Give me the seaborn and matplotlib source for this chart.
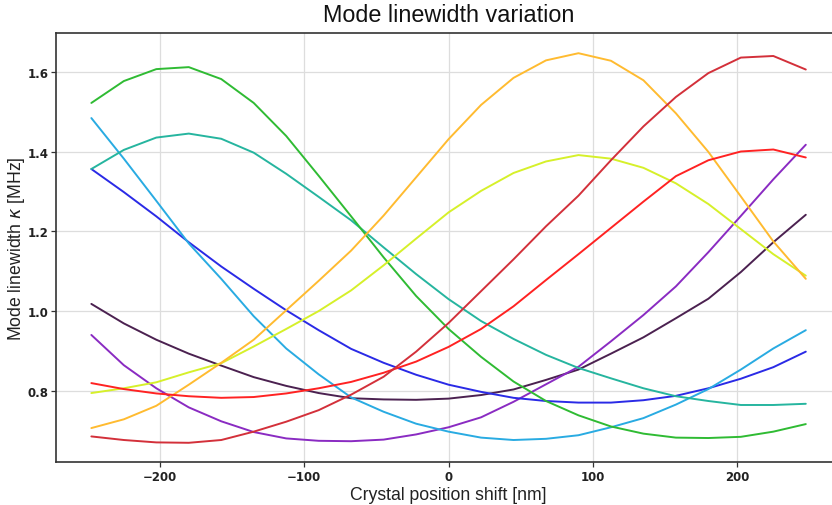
import numpy as np
import pandas as pd
import matplotlib
matplotlib.use("Agg")
import matplotlib.pyplot as plt
import seaborn as sns

# Crystal position shift samples [nm]
shift_nm = [-247.5, -225, -202.5, -180, -157.5, -135, -112.5, -90, -67.5, -45, -22.5, 0,
            22.5, 45, 67.5, 90, 112.5, 135, 157.5, 180, 202.5, 225, 247.5]

# Mode linewidth kappa [MHz] for each cavity mode
mode_darkpurple = [1.018, 0.969, 0.928, 0.893, 0.863, 0.834, 0.812, 0.794, 0.781, 0.778, 0.777, 0.780,
                   0.789, 0.803, 0.827, 0.853, 0.893, 0.934, 0.982, 1.031, 1.098, 1.173, 1.242]
mode_purple = [0.940, 0.864, 0.806, 0.758, 0.723, 0.696, 0.680, 0.674, 0.673, 0.677, 0.690, 0.708,
               0.733, 0.772, 0.816, 0.860, 0.924, 0.990, 1.062, 1.148, 1.239, 1.331, 1.418]
mode_blue = [1.357, 1.299, 1.238, 1.173, 1.112, 1.056, 1.002, 0.952, 0.905, 0.870, 0.840, 0.815,
             0.797, 0.782, 0.774, 0.770, 0.770, 0.776, 0.787, 0.806, 0.830, 0.859, 0.898]
mode_lightblue = [1.485, 1.383, 1.277, 1.170, 1.081, 0.987, 0.906, 0.841, 0.783, 0.747, 0.717, 0.697,
                  0.682, 0.676, 0.679, 0.688, 0.708, 0.731, 0.765, 0.804, 0.853, 0.906, 0.952]
mode_teal = [1.357, 1.405, 1.436, 1.446, 1.433, 1.398, 1.345, 1.287, 1.228, 1.160, 1.093, 1.030,
             0.975, 0.930, 0.890, 0.857, 0.831, 0.806, 0.786, 0.774, 0.764, 0.764, 0.767]
mode_green = [1.523, 1.578, 1.608, 1.613, 1.583, 1.523, 1.440, 1.340, 1.238, 1.135, 1.038, 0.955,
              0.885, 0.823, 0.774, 0.738, 0.710, 0.692, 0.682, 0.681, 0.684, 0.697, 0.716]
mode_yellowgreen = [0.794, 0.806, 0.821, 0.846, 0.869, 0.911, 0.955, 1.000, 1.052, 1.115, 1.182, 1.248,
                    1.302, 1.347, 1.376, 1.392, 1.383, 1.360, 1.321, 1.269, 1.206, 1.143, 1.089]
mode_orange = [0.706, 0.728, 0.762, 0.815, 0.870, 0.928, 1.002, 1.076, 1.152, 1.240, 1.336, 1.432,
               1.518, 1.586, 1.630, 1.648, 1.629, 1.580, 1.497, 1.400, 1.288, 1.175, 1.081]
mode_red = [0.819, 0.804, 0.793, 0.786, 0.782, 0.784, 0.793, 0.806, 0.822, 0.845, 0.873, 0.910,
            0.955, 1.012, 1.078, 1.143, 1.209, 1.275, 1.339, 1.379, 1.401, 1.406, 1.386]
mode_darkred = [0.685, 0.676, 0.670, 0.669, 0.676, 0.697, 0.722, 0.751, 0.790, 0.835, 0.898, 0.970,
                1.050, 1.130, 1.213, 1.290, 1.379, 1.464, 1.538, 1.598, 1.637, 1.641, 1.607]

modes = {
    "m0": mode_darkpurple,
    "m1": mode_purple,
    "m2": mode_blue,
    "m3": mode_lightblue,
    "m4": mode_teal,
    "m5": mode_green,
    "m6": mode_yellowgreen,
    "m7": mode_orange,
    "m8": mode_red,
    "m9": mode_darkred,
}
mode_colors = ["#4b2150", "#8a2bc2", "#2a2ae6", "#29abe2", "#26b59f",
               "#2fbb33", "#d6f02a", "#ffbb30", "#ff2222", "#d3303a"]

df = pd.DataFrame(
    [(x, k, name) for name, vals in modes.items() for x, k in zip(shift_nm, vals)],
    columns=["shift", "kappa", "mode"],
)

sns.set_style("whitegrid")
plt.rcParams["font.family"] = ["Liberation Sans", "DejaVu Sans"]

fig = plt.figure(figsize=(8.32, 5.06), dpi=100)
ax = fig.add_axes([0.0673, 0.0844, 0.9437, 0.8478])

sns.lineplot(data=df, x="shift", y="kappa", hue="mode", palette=mode_colors,
             legend=False, linewidth=1.4, ax=ax)

ax.set_xlim(-272, 272)
ax.set_ylim(0.62, 1.698)
ax.set_xticks([-200, -100, 0, 100, 200])
ax.set_yticks([0.8, 1.0, 1.2, 1.4, 1.6])
ax.grid(True, color="#dddddd", linewidth=0.9)

for side, sp in ax.spines.items():
    sp.set_color("#333333")
    sp.set_linewidth(1.2)

ax.tick_params(axis="both", which="major", direction="out", length=3.5, width=0.9,
               color="#333333", left=True, bottom=True, labelsize=8.5, labelcolor="#222222",
               pad=2)
for lbl in ax.get_xticklabels() + ax.get_yticklabels():
    lbl.set_family("DejaVu Sans")
    lbl.set_fontweight("bold")

ax.set_xlabel("Crystal position shift [nm]", fontsize=12.7, color="#222222", labelpad=2)
ax.set_ylabel("Mode linewidth $\\kappa$ [MHz]", fontsize=12.7, color="#222222")
ax.yaxis.set_label_coords(-0.037, 0.5)
ax.set_title("Mode linewidth variation", fontsize=16.8, color="#111111", pad=9)

fig.savefig("out.png", dpi=100)
